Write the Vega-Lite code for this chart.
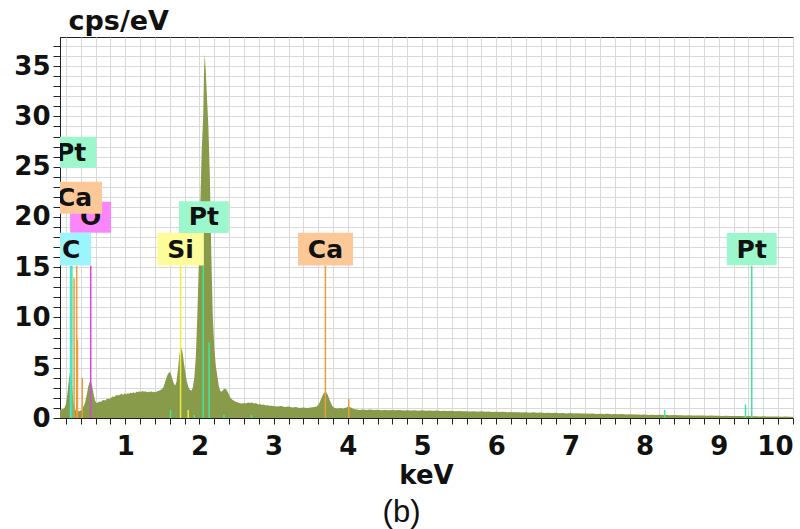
{
 "$schema": "https://vega.github.io/schema/vega-lite/v6.json",
 "autosize": {"type": "none"},
 "width": 733,
 "height": 381,
 "padding": {"left": 60, "top": 37, "right": 7, "bottom": 111},
 "background": "white",
 "config": {"view": {"stroke": "#222", "strokeWidth": 1}, "font": "DejaVu Sans"},
 "title": {"text": "(b)", "orient": "bottom", "anchor": "middle", "frame": "group", "offset": 10, "dx": -25, "font": "Liberation Sans", "fontSize": 31, "fontWeight": "normal", "color": "#111"},
 "datasets": {
  "spec": [
   {"e":0.12,"c":0.8},{"e":0.14,"c":0.85},{"e":0.16,"c":0.9},{"e":0.18,"c":1.0},{"e":0.2,"c":1.4},{"e":0.22,"c":2.4},{"e":0.24,"c":3.8},{"e":0.255,"c":4.6},{"e":0.27,"c":4.2},{"e":0.285,"c":3.0},{"e":0.3,"c":1.6},{"e":0.32,"c":0.9},{"e":0.34,"c":0.7},{"e":0.36,"c":0.65},{"e":0.38,"c":0.7},{"e":0.4,"c":0.75},{"e":0.42,"c":0.9},{"e":0.44,"c":1.2},{"e":0.46,"c":1.6},{"e":0.48,"c":2.3},{"e":0.5,"c":3.1},{"e":0.52,"c":3.6},{"e":0.535,"c":3.7},{"e":0.55,"c":3.3},{"e":0.57,"c":2.5},{"e":0.59,"c":1.8},{"e":0.61,"c":1.5},{"e":0.63,"c":1.55},{"e":0.65,"c":1.65},{"e":0.67,"c":1.6},{"e":0.69,"c":1.75},{"e":0.71,"c":1.8},{"e":0.73,"c":1.75},{"e":0.75,"c":1.9},{"e":0.77,"c":1.95},{"e":0.79,"c":1.9},{"e":0.81,"c":2.05},{"e":0.83,"c":2.15},{"e":0.85,"c":2.1},{"e":0.87,"c":2.25},{"e":0.89,"c":2.3},{"e":0.91,"c":2.25},{"e":0.93,"c":2.35},{"e":0.95,"c":2.4},{"e":0.97,"c":2.3},{"e":0.99,"c":2.45},{"e":1.01,"c":2.35},{"e":1.03,"c":2.45},{"e":1.05,"c":2.4},{"e":1.07,"c":2.5},{"e":1.09,"c":2.45},{"e":1.11,"c":2.55},{"e":1.13,"c":2.45},{"e":1.15,"c":2.6},{"e":1.17,"c":2.55},{"e":1.19,"c":2.65},{"e":1.21,"c":2.55},{"e":1.23,"c":2.7},{"e":1.25,"c":2.6},{"e":1.27,"c":2.65},{"e":1.29,"c":2.55},{"e":1.31,"c":2.6},{"e":1.33,"c":2.55},{"e":1.35,"c":2.65},{"e":1.37,"c":2.55},{"e":1.39,"c":2.6},{"e":1.41,"c":2.55},{"e":1.43,"c":2.65},{"e":1.45,"c":2.7},{"e":1.47,"c":2.75},{"e":1.49,"c":2.85},{"e":1.51,"c":3.0},{"e":1.53,"c":3.4},{"e":1.55,"c":3.9},{"e":1.57,"c":4.3},{"e":1.59,"c":4.55},{"e":1.61,"c":4.5},{"e":1.63,"c":4.0},{"e":1.65,"c":3.5},{"e":1.67,"c":3.2},{"e":1.69,"c":3.6},{"e":1.71,"c":4.8},{"e":1.73,"c":6.3},{"e":1.75,"c":7.1},{"e":1.77,"c":6.6},{"e":1.79,"c":5.5},{"e":1.81,"c":4.5},{"e":1.83,"c":3.6},{"e":1.85,"c":3.1},{"e":1.87,"c":2.8},{"e":1.89,"c":2.7},{"e":1.91,"c":3.0},{"e":1.93,"c":4.0},{"e":1.95,"c":6.0},{"e":1.97,"c":10},{"e":1.99,"c":15},{"e":2.01,"c":21},{"e":2.03,"c":26.5},{"e":2.05,"c":30},{"e":2.06,"c":34},{"e":2.07,"c":36.2},{"e":2.085,"c":34.5},{"e":2.1,"c":32},{"e":2.12,"c":29},{"e":2.14,"c":24},{"e":2.16,"c":16},{"e":2.18,"c":10},{"e":2.2,"c":7},{"e":2.22,"c":5.2},{"e":2.24,"c":4.2},{"e":2.26,"c":3.2},{"e":2.28,"c":2.7},{"e":2.3,"c":2.6},{"e":2.32,"c":2.8},{"e":2.34,"c":2.9},{"e":2.36,"c":2.85},{"e":2.38,"c":2.6},{"e":2.4,"c":2.3},{"e":2.42,"c":2.0},{"e":2.44,"c":1.85},{"e":2.46,"c":1.75},{"e":2.48,"c":1.65},{"e":2.5,"c":1.6},{"e":2.52,"c":1.55},{"e":2.54,"c":1.5},{"e":2.56,"c":1.45},{"e":2.58,"c":1.45},{"e":2.6,"c":1.5},{"e":2.62,"c":1.45},{"e":2.64,"c":1.5},{"e":2.66,"c":1.55},{"e":2.68,"c":1.5},{"e":2.7,"c":1.55},{"e":2.72,"c":1.5},{"e":2.74,"c":1.45},{"e":2.76,"c":1.5},{"e":2.78,"c":1.4},{"e":2.8,"c":1.35},{"e":2.82,"c":1.4},{"e":2.84,"c":1.3},{"e":2.86,"c":1.35},{"e":2.88,"c":1.3},{"e":2.9,"c":1.25},{"e":2.92,"c":1.3},{"e":2.94,"c":1.2},{"e":2.96,"c":1.25},{"e":2.98,"c":1.2},{"e":3.0,"c":1.2},
   {"e":3.05,"c":1.15},{"e":3.1,"c":1.2},{"e":3.15,"c":1.1},{"e":3.2,"c":1.15},{"e":3.25,"c":1.05},{"e":3.3,"c":1.1},{"e":3.35,"c":1.0},{"e":3.4,"c":1.05},{"e":3.45,"c":1.0},{"e":3.5,"c":1.05},{"e":3.55,"c":1.1},{"e":3.58,"c":1.15},{"e":3.61,"c":1.4},{"e":3.64,"c":1.9},{"e":3.67,"c":2.4},{"e":3.7,"c":2.65},{"e":3.73,"c":2.3},{"e":3.76,"c":1.7},{"e":3.79,"c":1.2},{"e":3.82,"c":1.0},{"e":3.86,"c":0.95},{"e":3.9,"c":1.0},{"e":3.94,"c":0.95},{"e":3.98,"c":1.05},{"e":4.01,"c":1.15},{"e":4.04,"c":1.05},{"e":4.08,"c":0.9},{"e":4.12,"c":0.85},{"e":4.16,"c":0.8},{"e":4.2,"c":0.85},{"e":4.25,"c":0.8},
   {"e":4.3,"c":0.85},{"e":4.35,"c":0.8},{"e":4.4,"c":0.82},{"e":4.45,"c":0.78},{"e":4.5,"c":0.8},{"e":4.55,"c":0.76},{"e":4.6,"c":0.8},{"e":4.65,"c":0.77},{"e":4.7,"c":0.79},{"e":4.75,"c":0.74},{"e":4.8,"c":0.77},{"e":4.85,"c":0.75},{"e":4.9,"c":0.78},{"e":4.95,"c":0.73},{"e":5.0,"c":0.76},{"e":5.05,"c":0.72},{"e":5.1,"c":0.75},{"e":5.15,"c":0.71},{"e":5.2,"c":0.74},{"e":5.25,"c":0.7},{"e":5.3,"c":0.72},{"e":5.35,"c":0.69},{"e":5.4,"c":0.71},{"e":5.45,"c":0.67},{"e":5.5,"c":0.7},{"e":5.55,"c":0.66},{"e":5.6,"c":0.68},{"e":5.65,"c":0.65},{"e":5.7,"c":0.67},{"e":5.75,"c":0.63},{"e":5.8,"c":0.66},{"e":5.85,"c":0.62},{"e":5.9,"c":0.64},{"e":5.95,"c":0.6},{"e":6.0,"c":0.63},{"e":6.05,"c":0.59},{"e":6.1,"c":0.61},{"e":6.15,"c":0.58},{"e":6.2,"c":0.6},{"e":6.25,"c":0.56},{"e":6.3,"c":0.58},{"e":6.35,"c":0.55},{"e":6.4,"c":0.57},{"e":6.45,"c":0.53},{"e":6.5,"c":0.56},{"e":6.55,"c":0.52},{"e":6.6,"c":0.54},{"e":6.65,"c":0.5},{"e":6.7,"c":0.53},{"e":6.75,"c":0.49},{"e":6.8,"c":0.51},{"e":6.85,"c":0.48},{"e":6.9,"c":0.5},{"e":6.95,"c":0.46},{"e":7.0,"c":0.49},{"e":7.05,"c":0.45},{"e":7.1,"c":0.47},{"e":7.15,"c":0.44},{"e":7.2,"c":0.46},{"e":7.25,"c":0.42},{"e":7.3,"c":0.45},{"e":7.35,"c":0.41},{"e":7.4,"c":0.43},{"e":7.45,"c":0.4},{"e":7.5,"c":0.42},{"e":7.55,"c":0.38},{"e":7.6,"c":0.4},{"e":7.65,"c":0.37},{"e":7.7,"c":0.39},{"e":7.75,"c":0.35},{"e":7.8,"c":0.37},{"e":7.85,"c":0.34},{"e":7.9,"c":0.36},{"e":7.95,"c":0.33},{"e":8.0,"c":0.34},{"e":8.05,"c":0.31},{"e":8.1,"c":0.33},{"e":8.15,"c":0.3},{"e":8.2,"c":0.32},{"e":8.25,"c":0.29},{"e":8.3,"c":0.31},{"e":8.35,"c":0.28},{"e":8.4,"c":0.3},{"e":8.45,"c":0.27},{"e":8.5,"c":0.28},{"e":8.55,"c":0.26},{"e":8.6,"c":0.27},{"e":8.65,"c":0.25},{"e":8.7,"c":0.26},{"e":8.75,"c":0.24},{"e":8.8,"c":0.25},{"e":8.85,"c":0.23},{"e":8.9,"c":0.24},{"e":8.95,"c":0.22},{"e":9.0,"c":0.23},{"e":9.05,"c":0.21},{"e":9.1,"c":0.22},{"e":9.15,"c":0.2},{"e":9.2,"c":0.21},{"e":9.25,"c":0.19},{"e":9.3,"c":0.2},{"e":9.35,"c":0.18},{"e":9.4,"c":0.19},{"e":9.45,"c":0.17},{"e":9.5,"c":0.18},{"e":9.55,"c":0.16},{"e":9.6,"c":0.17},{"e":9.65,"c":0.15},{"e":9.7,"c":0.16},{"e":9.75,"c":0.14},{"e":9.8,"c":0.15},{"e":9.85,"c":0.13},{"e":9.9,"c":0.14},{"e":9.95,"c":0.12},{"e":10.0,"c":0.12}
  ],
  "lines": [
   {"el":"C","e":0.262,"h":15.15},{"el":"Pt","e":0.28,"h":15.15},{"el":"Ca","e":0.31,"h":13.9},{"el":"Ca","e":0.345,"h":15.15},{"el":"Ca","e":0.355,"h":7.8},{"el":"Ca","e":0.42,"h":4.0},{"el":"O","e":0.534,"h":15.15},
   {"el":"Pt","e":1.61,"h":0.8},{"el":"Si","e":1.745,"h":15.15},{"el":"Si","e":1.848,"h":0.8},{"el":"Pt","e":1.93,"h":0.3},{"el":"Pt","e":2.05,"h":15.15},{"el":"Pt","e":2.13,"h":7.5},{"el":"Pt","e":2.33,"h":0.35},{"el":"Pt","e":2.7,"h":0.3},
   {"el":"Ca","e":3.697,"h":15.15},{"el":"Ca","e":4.012,"h":1.9},{"el":"Pt","e":8.27,"h":0.8},{"el":"Pt","e":9.36,"h":1.35},{"el":"Pt","e":9.444,"h":15.15}
  ],
  "boxes": [
   {"el":"Pt","g":1,"x1":-0.067,"x2":0.606,"y1":24.9,"y2":27.98,"xc":0.27,"yc":26.4},
   {"el":"O","g":1,"x1":0.256,"x2":0.808,"y1":18.44,"y2":21.52,"xc":0.532,"yc":19.95},
   {"el":"Ca","g":2,"x1":-0.054,"x2":0.686,"y1":20.33,"y2":23.51,"xc":0.316,"yc":21.9},
   {"el":"C","g":2,"x1":0.0,"x2":0.538,"y1":15.16,"y2":18.44,"xc":0.27,"yc":16.75},
   {"el":"Si","g":2,"x1":1.431,"x2":2.059,"y1":15.16,"y2":18.44,"xc":1.745,"yc":16.75},
   {"el":"Pt","g":2,"x1":1.723,"x2":2.396,"y1":18.41,"y2":21.55,"xc":2.06,"yc":19.95},
   {"el":"Ca","g":2,"x1":3.328,"x2":4.069,"y1":15.16,"y2":18.44,"xc":3.698,"yc":16.75},
   {"el":"Pt","g":2,"x1":9.108,"x2":9.781,"y1":15.19,"y2":18.41,"xc":9.444,"yc":16.75}
  ]
 },
 "layer": [
  {
   "data": {"name": "spec"},
   "mark": {"type": "area", "color": "#889b4b", "clip": true, "interpolate": "linear"},
   "encoding": {
    "x": {"field": "e", "type": "quantitative",
      "scale": {"domain": [0.12, 10], "nice": false, "zero": false},
      "axis": {
        "values": [0.2,0.4,0.6,0.8,1,1.2,1.4,1.6,1.8,2,2.2,2.4,2.6,2.8,3,3.2,3.4,3.6,3.8,4,4.2,4.4,4.6,4.8,5,5.2,5.4,5.6,5.8,6,6.2,6.4,6.6,6.8,7,7.2,7.4,7.6,7.8,8,8.2,8.4,8.6,8.8,9,9.2,9.4,9.6,9.8,10],
        "tickCount": 100,
        "labelExpr": "abs(datum.value - round(datum.value)) < 0.01 ? '' + round(datum.value) : ''",
        "labelFlush": true, "labelOverlap": false,
        "labelFont": "DejaVu Sans", "labelFontWeight": "bold", "labelFontSize": 26, "labelColor": "#111",
        "labelBaseline": "alphabetic", "labelPadding": 30,
        "tickSize": 6, "tickColor": "#222", "domainColor": "#222", "tickWidth": 1,
        "grid": true, "gridColor": "#d9d9d9", "gridWidth": 1,
        "title": "keV", "titleFont": "DejaVu Sans", "titleFontWeight": "bold", "titleFontSize": 26, "titleColor": "#111",
        "titleAngle": 0, "titleAlign": "center", "titleBaseline": "alphabetic", "titleX": 366, "titleY": 65
      }},
    "y": {"field": "c", "type": "quantitative",
      "scale": {"domain": [0, 37.9], "nice": false},
      "axis": {
        "values": [0,1,2,3,4,5,6,7,8,9,10,11,12,13,14,15,16,17,18,19,20,21,22,23,24,25,26,27,28,29,30,31,32,33,34,35,36,37],
        "tickCount": 100,
        "labelExpr": "datum.value % 5 == 0 ? '' + datum.value : ''",
        "labelOverlap": false, "labelFlush": false,
        "labelFont": "DejaVu Sans", "labelFontWeight": "bold", "labelFontSize": 26, "labelColor": "#111",
        "labelPadding": 3,
        "tickSize": 7, "tickColor": "#222", "domainColor": "#222",
        "grid": true, "gridColor": "#d9d9d9", "gridWidth": 1,
        "title": "cps/eV", "titleFont": "DejaVu Sans", "titleFontWeight": "bold", "titleFontSize": 27, "titleColor": "#111",
        "titleAngle": 0, "titleAlign": "left", "titleBaseline": "alphabetic", "titleX": 8, "titleY": -8
      }}
   }
  },
  {
   "data": {"name": "lines"},
   "mark": {"type": "rule", "strokeWidth": 1.5, "clip": true},
   "encoding": {
    "x": {"field": "e", "type": "quantitative", "title": "keV"},
    "y": {"field": "h", "type": "quantitative", "title": "cps/eV"},
    "y2": {"datum": 0},
    "stroke": {"field": "el", "type": "nominal", "legend": null,
      "scale": {"domain": ["C","O","Si","Ca","Pt"], "range": ["#3fe3f2","#e040e0","#eeee3a","#f29a3c","#3de89b"]}}
   }
  },
  {
   "data": {"name": "boxes"},
   "transform": [{"filter": "datum.g == 1"}],
   "layer": [
    {"mark": {"type": "rect", "clip": true},
     "encoding": {
      "x": {"field": "x1", "type": "quantitative", "title": "keV"}, "x2": {"field": "x2"},
      "y": {"field": "y1", "type": "quantitative", "title": "cps/eV"}, "y2": {"field": "y2"},
      "fill": {"field": "el", "type": "nominal", "legend": null,
        "scale": {"domain": ["C","O","Si","Ca","Pt"], "range": ["#9cf4fc","#fb86fb","#fcfc9a","#fcc898","#9cf8cc"]}}
     }},
    {"mark": {"type": "text", "clip": true, "font": "DejaVu Sans", "fontWeight": "bold", "fontSize": 25, "color": "#111", "baseline": "middle", "align": "center"},
     "encoding": {
      "x": {"field": "xc", "type": "quantitative", "title": "keV"},
      "y": {"field": "yc", "type": "quantitative", "title": "cps/eV"},
      "text": {"field": "el", "type": "nominal"}
     }}
   ]
  },
  {
   "data": {"name": "boxes"},
   "transform": [{"filter": "datum.g == 2"}],
   "layer": [
    {"mark": {"type": "rect", "clip": true},
     "encoding": {
      "x": {"field": "x1", "type": "quantitative", "title": "keV"}, "x2": {"field": "x2"},
      "y": {"field": "y1", "type": "quantitative", "title": "cps/eV"}, "y2": {"field": "y2"},
      "fill": {"field": "el", "type": "nominal", "legend": null,
        "scale": {"domain": ["C","O","Si","Ca","Pt"], "range": ["#9cf4fc","#fb86fb","#fcfc9a","#fcc898","#9cf8cc"]}}
     }},
    {"mark": {"type": "text", "clip": true, "font": "DejaVu Sans", "fontWeight": "bold", "fontSize": 25, "color": "#111", "baseline": "middle", "align": "center"},
     "encoding": {
      "x": {"field": "xc", "type": "quantitative", "title": "keV"},
      "y": {"field": "yc", "type": "quantitative", "title": "cps/eV"},
      "text": {"field": "el", "type": "nominal"}
     }}
   ]
  }
 ]
}
